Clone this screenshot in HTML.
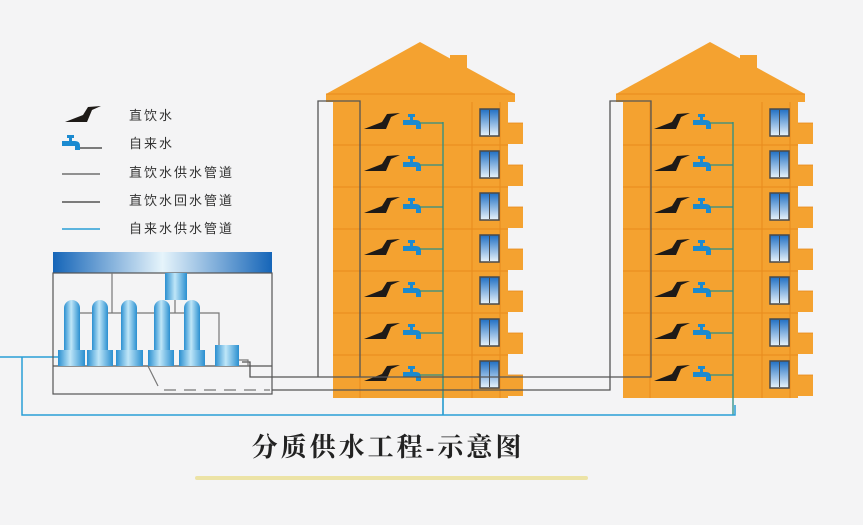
<!DOCTYPE html>
<html><head><meta charset="utf-8">
<style>
html,body{margin:0;padding:0;background:#f4f4f5;}
svg{display:block;}
</style></head>
<body>
<svg width="863" height="525" viewBox="0 0 863 525" xmlns="http://www.w3.org/2000/svg">
<defs>
  <linearGradient id="win" x1="0" y1="0" x2="0" y2="1">
    <stop offset="0" stop-color="#1f6fc4"/><stop offset="1" stop-color="#eaf4fb"/>
  </linearGradient>
  <linearGradient id="bar" x1="0" y1="0" x2="1" y2="0">
    <stop offset="0" stop-color="#1565b8"/><stop offset="0.5" stop-color="#e6f4fb"/><stop offset="1" stop-color="#1565b8"/>
  </linearGradient>
  <linearGradient id="cyl" x1="0" y1="0" x2="1" y2="0">
    <stop offset="0" stop-color="#2a8fd0"/><stop offset="0.45" stop-color="#bfe6f8"/><stop offset="1" stop-color="#2a8fd0"/>
  </linearGradient>
  <g id="drink">
    <polygon points="0,16 18,9 23,1 36,0 27,4 22,16" fill="#1e1a17"/>
  </g>
  <g id="tap" fill="#1b8ad0">
    <rect x="5" y="0" width="7" height="3"/>
    <rect x="7" y="2" width="3" height="4"/>
    <path d="M0,6 h13 q5,0 5,5 v4 h-5 v-4 h-13 z"/>
  </g>
  <g id="floor">
    <use href="#drink" x="364" y="10"/>
    <use href="#tap" x="403" y="11"/>
    <line x1="419" y1="20" x2="443" y2="20" stroke="#2a8f86" stroke-width="1.3"/>
    <rect x="480" y="6" width="19" height="27" fill="url(#win)" stroke="#4a4a4a" stroke-width="1.5"/>
    <line x1="489.5" y1="7" x2="489.5" y2="32" stroke="#4a4a4a" stroke-width="1"/>
    <rect x="508" y="20" width="15" height="21" fill="#f4a230"/>
    <line x1="508" y1="20" x2="523" y2="20" stroke="#e88b1c" stroke-width="0.8"/>
  </g>
  <g id="bld">
    <rect x="450" y="55" width="17" height="25" fill="#f4a230"/>
    <polygon points="326,94 420,42 515,94 515,102 326,102" fill="#f4a230"/>
    <line x1="326" y1="94" x2="515" y2="94" stroke="#e88b1c" stroke-width="1"/>
    <rect x="333" y="100" width="175" height="298" fill="#f4a230"/>
    <g stroke="#e88b1c" stroke-width="1">
      <line x1="333" y1="145" x2="508" y2="145"/><line x1="333" y1="187" x2="508" y2="187"/>
      <line x1="333" y1="229" x2="508" y2="229"/><line x1="333" y1="271" x2="508" y2="271"/>
      <line x1="333" y1="313" x2="508" y2="313"/><line x1="333" y1="355" x2="508" y2="355"/>
      <line x1="360" y1="102" x2="360" y2="398"/><line x1="472" y1="102" x2="472" y2="398"/>
      <line x1="500" y1="102" x2="500" y2="398"/>
    </g>
    <use href="#floor" y="103"/><use href="#floor" y="145"/><use href="#floor" y="187"/>
    <use href="#floor" y="229"/><use href="#floor" y="271"/><use href="#floor" y="313"/>
    <use href="#floor" y="355"/>
    <line x1="443" y1="122" x2="443" y2="415" stroke="#2a8f86" stroke-width="1.3"/>
  </g>
</defs>

<use href="#bld"/>
<use href="#bld" x="290"/>

<g fill="none" stroke="#555" stroke-width="1.3">
  <polyline points="360,377 360,101 318,101 318,377"/>
  <polyline points="242,362 250,362 250,377 651,377 651,101 610,101 610,390 272,390"/>
</g>
<g fill="none" stroke="#2a9fd6" stroke-width="1.5">
  <polyline points="0,357 58,357"/>
  <polyline points="22,357 22,415 735,415 735,405"/>
  <line x1="443" y1="398" x2="443" y2="415"/>
</g>

<rect x="53" y="252" width="219" height="21" fill="url(#bar)"/>
<rect x="53" y="273" width="219" height="121" fill="none" stroke="#555" stroke-width="1.2"/>
<line x1="53" y1="366" x2="272" y2="366" stroke="#555" stroke-width="1.2"/>
<g stroke="#777" stroke-width="1.2" fill="none">
  <line x1="112" y1="273" x2="112" y2="313"/>
  <polyline points="80,313 215,313 219,313 219,345"/>
  <line x1="175" y1="300" x2="175" y2="313"/>
  <polyline points="238,360 248,360 248,366"/>
  <line x1="148" y1="366" x2="158" y2="386"/>
  <line x1="164" y1="390" x2="270" y2="390" stroke-dasharray="12,8"/>
</g>
<rect x="165" y="273" width="22" height="27" fill="url(#cyl)"/>
<g fill="url(#cyl)">
  <path d="M64,352 v-44 a8,8 0 0 1 16,0 v44z"/>
  <path d="M92,352 v-44 a8,8 0 0 1 16,0 v44z"/>
  <path d="M121,352 v-44 a8,8 0 0 1 16,0 v44z"/>
  <path d="M154,352 v-44 a8,8 0 0 1 16,0 v44z"/>
  <path d="M184,352 v-44 a8,8 0 0 1 16,0 v44z"/>
  <rect x="58" y="350" width="27" height="16"/>
  <rect x="87" y="350" width="26" height="16"/>
  <rect x="116" y="350" width="27" height="16"/>
  <rect x="148" y="350" width="26" height="16"/>
  <rect x="179" y="350" width="26" height="16"/>
  <rect x="215" y="345" width="24" height="21"/>
</g>

<use href="#drink" x="65" y="106"/>
<use href="#tap" x="62" y="135"/>
<line x1="80" y1="148" x2="102" y2="148" stroke="#333" stroke-width="1.2"/>
<line x1="62" y1="174" x2="100" y2="174" stroke="#555" stroke-width="1.3"/>
<line x1="62" y1="202" x2="100" y2="202" stroke="#333" stroke-width="1.3"/>
<line x1="62" y1="229" x2="100" y2="229" stroke="#2a9fd6" stroke-width="1.5"/>
<g font-family="Liberation Sans, Noto Sans CJK SC, sans-serif" font-size="13" fill="#333" letter-spacing="2">
  <text x="129" y="120">直饮水</text>
  <text x="129" y="148">自来水</text>
  <text x="129" y="177">直饮水供水管道</text>
  <text x="129" y="205">直饮水回水管道</text>
  <text x="129" y="233">自来水供水管道</text>
</g>

<text x="388" y="456" text-anchor="middle" font-family="Liberation Serif, Noto Serif CJK SC, serif" font-size="26" font-weight="bold" fill="#222" letter-spacing="3">分质供水工程-示意图</text>
<rect x="195" y="476" width="393" height="4" rx="2" fill="#ece3a6"/>
</svg>
</body></html>
